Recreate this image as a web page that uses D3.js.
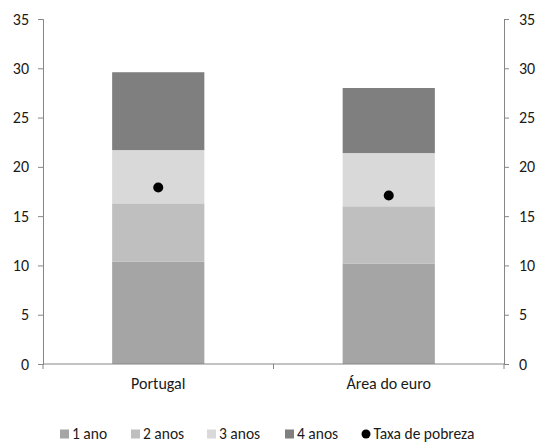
<!DOCTYPE html>
<html>
<head>
<meta charset="utf-8">
<script src="https://cdn.jsdelivr.net/npm/d3@7"></script>
<style>
  html, body { margin: 0; padding: 0; background: #fff; }
  svg { display: block; font-family: Carlito, Lato, "Liberation Sans", sans-serif; }
</style>
</head>
<body>
<svg id="chart" width="538" height="445"></svg>
<script>
// Categories and stacked series (duration of poverty spells), plus poverty rate
const categories = ["Portugal", "Área do euro"];
const seriesNames = ["1 ano", "2 anos", "3 anos", "4 anos"];
const ano1 = [10.4, 10.2];
const anos2 = [5.9, 5.8];
const anos3 = [5.4, 5.4];
const anos4 = [7.9, 6.6];
const taxaPobreza = [17.9, 17.1];
const yTicks = [0, 5, 10, 15, 20, 25, 30, 35];
const seriesColors = ["#a5a5a5", "#bfbfbf", "#d9d9d9", "#7f7f7f"];

const rows = categories.map((c, i) => ({
  cat: c,
  "1 ano": ano1[i],
  "2 anos": anos2[i],
  "3 anos": anos3[i],
  "4 anos": anos4[i],
  taxa: taxaPobreza[i]
}));

const svg = d3.select("#chart");
const plot = { left: 43, right: 504, top: 19, bottom: 364 };

const x = d3.scaleBand().domain(categories).range([plot.left, plot.right])
  .paddingInner(0.6).paddingOuter(0.3);
const y = d3.scaleLinear().domain([0, 35]).range([plot.bottom, plot.top]);
const color = d3.scaleOrdinal().domain(seriesNames).range(seriesColors);

const stack = d3.stack().keys(seriesNames)(rows);

// stacked bars
svg.append("g").selectAll("g").data(stack).join("g")
  .attr("fill", d => color(d.key))
  .selectAll("rect").data(d => d).join("rect")
  .attr("x", d => x(d.data.cat))
  .attr("width", x.bandwidth())
  .attr("y", d => y(d[1]))
  .attr("height", d => y(d[0]) - y(d[1]));

// poverty-rate markers
svg.append("g").selectAll("circle").data(rows).join("circle")
  .attr("cx", d => x(d.cat) + x.bandwidth() / 2)
  .attr("cy", d => y(d.taxa))
  .attr("r", 5)
  .attr("fill", "#000");

const axisColor = "#868686";
const fontSize = "16px";
const textColor = "#1a1a1a";

// left axis
const yl = svg.append("g").attr("transform", `translate(${plot.left},0)`)
  .call(d3.axisLeft(y).tickValues(yTicks).tickSize(5).tickPadding(9));
// right axis
const yr = svg.append("g").attr("transform", `translate(${plot.right},0)`)
  .call(d3.axisRight(y).tickValues(yTicks).tickSize(5).tickPadding(10));

[yl, yr].forEach(g => {
  g.select(".domain").attr("stroke", axisColor);
  g.selectAll(".tick line").attr("stroke", axisColor);
  g.selectAll("text").attr("fill", textColor).style("font-size", fontSize)
    .style("font-family", "Carlito, Lato, 'Liberation Sans', sans-serif");
});

// category axis with ticks on the band boundaries
svg.append("line")
  .attr("x1", plot.left).attr("x2", plot.right)
  .attr("y1", plot.bottom).attr("y2", plot.bottom)
  .attr("stroke", axisColor);
const bounds = [plot.left, (x(categories[0]) + x.bandwidth() + x(categories[1])) / 2, plot.right];
svg.append("g").selectAll("line").data(bounds).join("line")
  .attr("x1", d => d).attr("x2", d => d)
  .attr("y1", plot.bottom).attr("y2", plot.bottom + 5)
  .attr("stroke", axisColor);

svg.append("g").selectAll("text").data(categories).join("text")
  .attr("x", d => x(d) + x.bandwidth() / 2)
  .attr("y", plot.bottom + 25)
  .attr("text-anchor", "middle")
  .attr("fill", textColor)
  .style("font-size", fontSize)
  .text(d => d);

// legend
const legendItems = seriesNames.map(n => ({ name: n, type: "rect" }))
  .concat([{ name: "Taxa de pobreza", type: "dot" }]);
const legendX = [60, 131, 207, 285, 361.5];
const ly = 434;
const lg = svg.append("g").selectAll("g").data(legendItems).join("g")
  .attr("transform", (d, i) => `translate(${legendX[i]},${ly})`);
lg.filter(d => d.type === "rect").append("rect")
  .attr("x", 0).attr("y", -4.5).attr("width", 9).attr("height", 9)
  .attr("fill", d => color(d.name));
lg.filter(d => d.type === "dot").append("circle")
  .attr("cx", 4.5).attr("cy", 0).attr("r", 4.5).attr("fill", "#000");
lg.append("text")
  .attr("x", 12)
  .attr("y", 0)
  .attr("dy", "0.35em")
  .attr("fill", textColor)
  .style("font-size", "15.5px")
  .text(d => d.name);
</script>
</body>
</html>
